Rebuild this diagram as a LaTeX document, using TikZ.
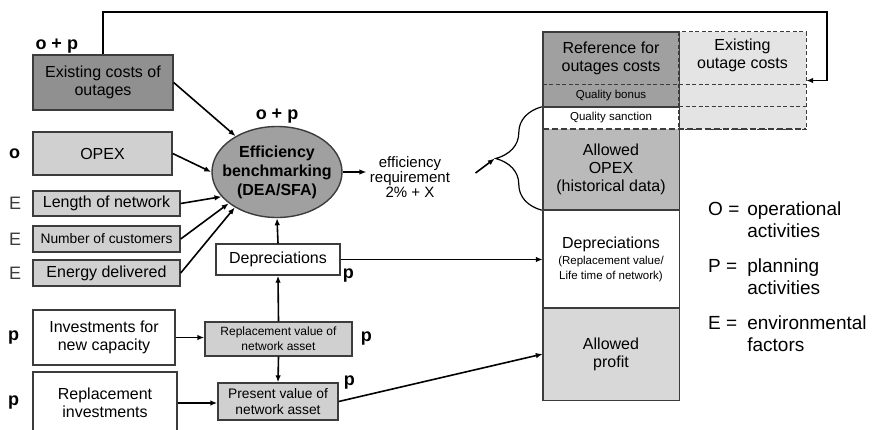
\documentclass[tikz,border=0pt]{standalone}
\usepackage{fontspec}
\setmainfont{Liberation Sans}
\usetikzlibrary{arrows.meta,positioning,calc,shapes.geometric,decorations.pathreplacing}
\definecolor{Frame}{HTML}{3C3C3C}
\definecolor{Dark}{HTML}{909090}
\definecolor{Mid}{HTML}{A0A0A0}
\definecolor{Opex}{HTML}{BABABA}
\definecolor{Light}{HTML}{D0D0D0}
\definecolor{Profit}{HTML}{D8D8D8}
\definecolor{Pale}{HTML}{E4E4E4}

\begin{document}
\begin{tikzpicture}[x=1pt,y=-1pt,every node/.style={font=\fontsize{16}{18}\selectfont},
 box/.style={draw=Frame,line width=1.4pt,align=center,inner sep=0pt},
 colbox/.style={align=center,inner sep=0pt,minimum width=136},
 tag/.style={font=\fontsize{18}{20}\selectfont\bfseries,inner sep=1pt},
 etag/.style={font=\fontsize{18}{20}\selectfont,inner sep=1pt,text=Frame},
 arr/.style={line width=1.6pt,-{Latex[length=7pt,width=5.5pt]}},
 frame/.style={draw=Frame,line width=1.4pt},
 dashline/.style={draw=Frame,line width=1.2pt,dash pattern=on 4pt off 2.5pt}]
\useasboundingbox (0,0) rectangle (876,429);
\clip (0,0) rectangle (876,429);
% inputs on the left
\node[box,fill=Dark,minimum width=140,minimum height=55] (costs) at (103,82.5) {Existing costs of\\outages};
\node[box,fill=Light,minimum width=139,minimum height=43] (opex) at (102.5,153.5) {OPEX};
\node[box,fill=Light,minimum width=147,minimum height=25] (length) at (106.5,203.5) {Length of network};
\node[box,fill=Light,minimum width=147,minimum height=26,font=\fontsize{13.8}{16}\selectfont] (customers) at (106.5,239) {Number of customers};
\node[box,fill=Light,minimum width=147,minimum height=26] (energy) at (106.5,273) {Energy delivered};
\node[box,fill=white,minimum width=142,minimum height=55] (invest) at (104,337.5) {Investments for\\new capacity};
\node[box,fill=white,minimum width=144,minimum height=62] (replinv) at (105,403) {Replacement\\investments};
\node[tag,above right=0pt and 2pt of costs.north west] (tagcosts) {o + p};
\node[tag,left=11pt of opex] (tagopex) {o};
\node[etag,left=10pt of length] (taglength) {E};
\node[etag,left=10pt of customers] (tagcust) {E};
\node[etag,left=10pt of energy] (tagenergy) {E};
\node[tag,left=12pt of invest] (taginvest) {p};
\node[tag,left=12pt of replinv] (tagreplinv) {p};
% benchmarking and assets
\node[box,ellipse,fill=Mid,minimum width=130,minimum height=91,inner xsep=-14pt,inner ysep=0pt,
 font=\fontsize{16}{19}\selectfont\bfseries] (bench) at (277,172) {Efficiency\\benchmarking\\(DEA/SFA)};
\node[tag,above=1pt of bench] (tagbench) {o + p};
\node[box,fill=white,minimum width=124,minimum height=31] (depr) at (278,259.5) {Depreciations};
\node[box,fill=Light,minimum width=147,minimum height=34,font=\fontsize{12}{15}\selectfont] (repl) at (278.5,339) {Replacement value of\\network asset};
\node[box,fill=Light,minimum width=120,minimum height=37,font=\fontsize{13.8}{16}\selectfont] (present) at (278,401.5) {Present value of\\network asset};
\node[tag,right=1pt of depr.south east] (tagdepr) {p};
\node[tag,right=7pt of repl] (tagrepl) {p};
\node[tag,right=4pt of present.north east] (tagpresent) {p};
\node[align=center,font=\fontsize{15}{15}\selectfont] (req) at (410,177) {efficiency\\requirement\\2\% + X};
% allowed revenue column
\node[colbox,fill=Pale,minimum width=127,minimum height=97] (exist) at (742.5,80.5) {};
\node[align=center,below=4pt of exist.north] (existtxt) {Existing\\outage costs};
\node[colbox,fill=Mid,minimum height=52] (ref) at (611,58) {Reference for\\outages costs};
\node[colbox,fill=Mid,minimum height=23,font=\fontsize{11.5}{13}\selectfont] (bonus) at (611,95.5) {Quality bonus};
\node[colbox,fill=white,minimum height=22,font=\fontsize{11.5}{13}\selectfont] (sanction) at (611,118) {Quality sanction};
\node[colbox,fill=Opex,minimum height=81] (aopex) at (611,169.5) {Allowed\\OPEX\\(historical data)};
\node[colbox,fill=white,minimum height=98] (rdepr) at (611,259) {Depreciations\\[-2pt]{\fontsize{11.5}{13}\selectfont(Replacement value/}\\[-3pt]{\fontsize{11.5}{13}\selectfont Life time of network)}};
\node[colbox,fill=Profit,minimum height=92] (profit) at (611,354) {Allowed\\profit};
\draw[dashline] (exist.north west) rectangle (exist.south east);
\draw[dashline] (ref.south west) -- (ref.south west -| exist.east);
\draw[dashline] (sanction.north east) -- (sanction.north east -| exist.east);
\draw[dashline,line width=1.8pt,dash pattern=on 6pt off 3pt] (sanction.south west) -- (sanction.south west -| exist.east);
\draw[frame] (ref.north west) rectangle (profit.south east);
\draw[frame] (sanction.north west) -- (sanction.north east);
\draw[frame] (rdepr.north west) -- (rdepr.north east);
\draw[frame] (profit.north west) -- (profit.north east);
\draw[line width=1.2pt,decorate,decoration={brace,amplitude=46pt}]
 ([xshift=-1pt]aopex.south west) -- ([xshift=-1pt]sanction.north west)
 coordinate[pos=0.5,xshift=-47pt] (bracetip);
% legend
\node[anchor=base west,inner sep=0pt,font=\fontsize{19}{22.5}\selectfont] (legend) at (708,215)
 {\begin{tabular}[t]{@{}l@{\hspace{8pt}}l@{}}O =&operational\\&activities\\[12pt]
 P =&planning\\&activities\\[12pt] E =&environmental\\&factors\end{tabular}};
% connectors
\coordinate (fbk) at (827,12);
\draw[arr] (costs.north) |- (fbk) |- (exist.east);
\draw[arr] (costs.east) -- (bench);
\draw[arr] (opex.east) -- (bench.west);
\draw[arr] (length.east) -- (bench.204);
\draw[arr] (customers.east) -- (bench.213);
\draw[arr] (energy.east) -- (bench.220);
\draw[arr] (bench.east) -- (bench.east -| req.west);
\draw[arr] ($(req.east)+(22,-4)$) -- (bracetip);
\draw[arr] (depr.north) -- (bench.south);
\draw[arr] (depr.east) -- (depr.east -| rdepr.west);
\draw[arr] (repl.north) -- (depr.south);
\draw[arr] (repl.south) -- (present.north);
\draw[arr] (invest.east) -- (invest.east -| repl.west);
\draw[arr] (replinv.east) -- (replinv.east -| present.west);
\draw[arr] (present.east) -- (profit.west);
\end{tikzpicture}
\end{document}
